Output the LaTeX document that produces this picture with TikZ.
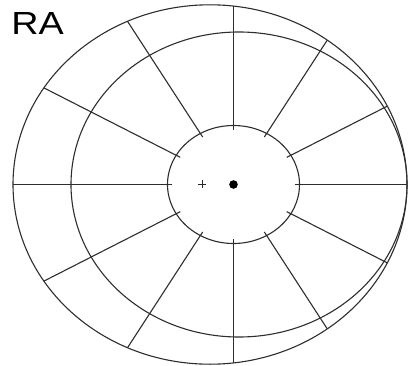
\documentclass[tikz,border=0pt]{standalone}
\usepackage{fontspec}
\setmainfont{Liberation Sans}
\usetikzlibrary{calc}
\begin{document}
\begin{tikzpicture}[x=1pt,y=1pt,
  ring/.style={draw=black!82,line width=1.1pt},
  spoke/.style={draw=black!82,line width=1.1pt}]
\useasboundingbox (0,0) rectangle (409,365);
\fill[white] (0,0) rectangle (409,365);
\coordinate (C) at (233.5,180.5);
% ellipses
\draw[ring] (210,180.5) ellipse [x radius=197pt, y radius=179.7pt];
\draw[ring] (239,180.5) ellipse [x radius=168pt, y radius=152.5pt];
\draw[ring] (C) ellipse [x radius=66pt, y radius=59pt];
% spokes
\foreach \t/\ri/\ro in {0/61.4/173.5, 27/59.8/172.6, 57/56.6/172.2, 90/54.9/178.5,
  123/56.6/194.6, 153/59.8/212.8, 180/61.4/220.5, 207/59.8/212.8, 237/56.6/194.6,
  270/54.9/178.5, 303/56.6/172.2, 333/59.8/172.6}
  \draw[spoke] ($(C)+(\t:\ri pt)$) -- ($(C)+(\t:\ro pt)$);
% centre marks
\fill[black] (C) circle (4.3pt);
\coordinate (P) at (202,181);
\draw[black!85,line width=0.9pt] ($(P)+(-4,0)$) -- ($(P)+(4,0)$)
  ($(P)+(0,-4)$) -- ($(P)+(0,4)$);
% label
\node[inner sep=0pt,xscale=1.18,font=\fontsize{32}{32}\selectfont] (RA) at (37.5,341.5) {RA};
\end{tikzpicture}
\end{document}
